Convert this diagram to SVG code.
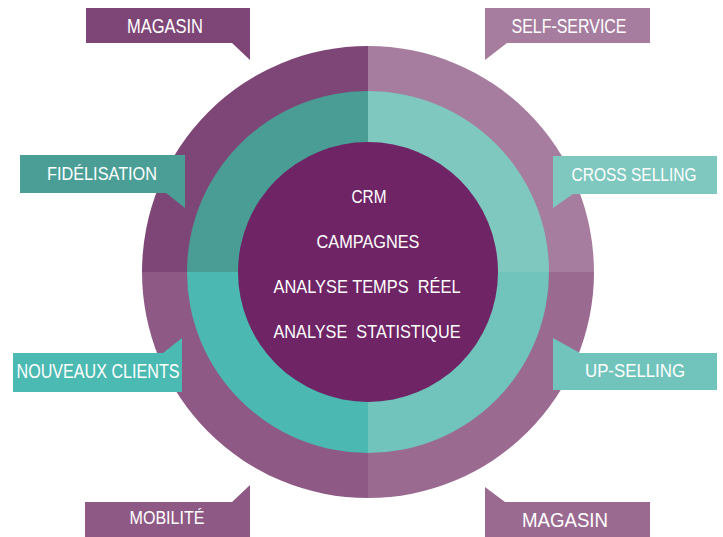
<svg xmlns="http://www.w3.org/2000/svg" width="723" height="537" viewBox="0 0 723 537">
  <style>
    .lbl { font-family: "Liberation Sans", "DejaVu Sans", sans-serif; fill: #ffffff; text-anchor: middle; }
    .core { font-family: "Liberation Sans", "DejaVu Sans", sans-serif; fill: #ffffff; text-anchor: middle; font-size: 19px; white-space: pre; }
  </style>
  <rect width="723" height="537" fill="#ffffff"/>

  <!-- Wheel: outer ring, middle ring, core -->
  <g id="wheel">
    <g id="outer-ring">
      <path d="M368,272 L142,272 A226,226 0 0 1 368,46 Z" fill="#7e4677"/>
      <path d="M368,272 L368,46 A226,226 0 0 1 594,272 Z" fill="#a67d9f"/>
      <path d="M368,272 L594,272 A226,226 0 0 1 368,498 Z" fill="#9a6a91"/>
      <path d="M368,272 L368,498 A226,226 0 0 1 142,272 Z" fill="#8e5a85"/>
    </g>
    <g id="middle-ring">
      <path d="M368,272 L187,272 A181,181 0 0 1 368,91 Z" fill="#4a9d95"/>
      <path d="M368,272 L368,91 A181,181 0 0 1 549,272 Z" fill="#7fc8bf"/>
      <path d="M368,272 L549,272 A181,181 0 0 1 368,453 Z" fill="#70c4bb"/>
      <path d="M368,272 L368,453 A181,181 0 0 1 187,272 Z" fill="#4bb9b1"/>
    </g>
    <g id="core">
      <circle cx="368" cy="272" r="130" fill="#6e2465"/>
      <text class="core" x="369" y="203" textLength="35" lengthAdjust="spacingAndGlyphs">CRM</text>
      <text class="core" x="368" y="248" textLength="103" lengthAdjust="spacingAndGlyphs">CAMPAGNES</text>
      <text class="core" x="367" y="293" textLength="187" lengthAdjust="spacingAndGlyphs">ANALYSE TEMPS  RÉEL</text>
      <text class="core" x="367" y="338" textLength="187" lengthAdjust="spacingAndGlyphs">ANALYSE  STATISTIQUE</text>
    </g>
  </g>

  <!-- Callout labels -->
  <g id="magasin-top">
    <path d="M86,8 H250 V60 L232,43 H86 Z" fill="#7e4677"/>
    <text class="lbl" x="165" y="33" font-size="20" textLength="76" lengthAdjust="spacingAndGlyphs">MAGASIN</text>
  </g>
  <g id="self-service">
    <path d="M485,8 H650 V43 H507 L485,60 Z" fill="#a67d9f"/>
    <text class="lbl" x="569" y="33" font-size="20" textLength="115" lengthAdjust="spacingAndGlyphs">SELF-SERVICE</text>
  </g>
  <g id="fidelisation">
    <path d="M20,155 H185 V208 L166,193 H20 Z" fill="#4a9e96"/>
    <text class="lbl" x="102" y="180" font-size="18" textLength="110" lengthAdjust="spacingAndGlyphs">FIDÉLISATION</text>
  </g>
  <g id="cross-selling">
    <path d="M553,156 H717 V194 H573 L553,208 Z" fill="#7fc8bf"/>
    <text class="lbl" x="634" y="181" font-size="18" textLength="125" lengthAdjust="spacingAndGlyphs">CROSS SELLING</text>
  </g>
  <g id="nouveaux-clients">
    <path d="M13,353 H163 L182,338 V392 H13 Z" fill="#4bbab2"/>
    <text class="lbl" x="98" y="378" font-size="20" textLength="163" lengthAdjust="spacingAndGlyphs">NOUVEAUX CLIENTS</text>
  </g>
  <g id="up-selling">
    <path d="M553,338 L580,353 H717 V390 H553 Z" fill="#70c4bb"/>
    <text class="lbl" x="635" y="377" font-size="18" textLength="100" lengthAdjust="spacingAndGlyphs">UP-SELLING</text>
  </g>
  <g id="mobilite">
    <path d="M85,502 H232 L250,485 V537 H85 Z" fill="#8e5a85"/>
    <text class="lbl" x="167" y="524" font-size="18" textLength="75" lengthAdjust="spacingAndGlyphs">MOBILITÉ</text>
  </g>
  <g id="magasin-bottom">
    <path d="M485,487 L505,502 H650 V537 H485 Z" fill="#9a6a91"/>
    <text class="lbl" x="565" y="527" font-size="20" textLength="86" lengthAdjust="spacingAndGlyphs">MAGASIN</text>
  </g>

  <!-- No connectors in this figure -->
  <g id="connectors"/>
</svg>
